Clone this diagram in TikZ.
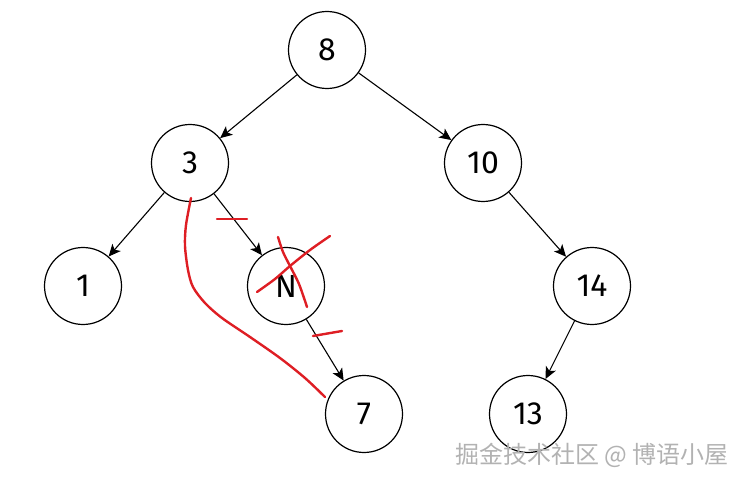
\documentclass[tikz,border=0pt]{standalone}
\usepackage{fontspec}
\setmainfont{Fira Sans}
\newfontfamily\cjkfont{Noto Sans CJK SC}
\usetikzlibrary{arrows.meta}
\begin{document}
\begin{tikzpicture}[x=1pt,y=-1pt,
  tnode/.style={circle,draw=black,line width=1.2pt,minimum size=77pt,inner sep=0pt,
    font=\fontsize{32}{36}\selectfont},
  edge/.style={draw=black,line width=1.1pt,-{Stealth[length=12pt,width=11pt,inset=3pt]}},
  redmark/.style={draw={rgb,255:red,222;green,30;blue,36},line width=2.4pt,line cap=round,line join=round}]
\useasboundingbox (0,0) rectangle (756,484);
\node[tnode] (n8) at (327,50) {8};
\node[tnode] (n3) at (190,163) {3};
\node[tnode] (n10) at (483,163) {10};
\node[tnode] (n1) at (83,286) {1};
\node[tnode] (nN) at (286,286) {N};
\node[tnode] (n14) at (592,286) {14};
\node[tnode] (n7) at (364,414) {7};
\node[tnode] (n13) at (528,414) {13};
\draw[edge] (n8) -- (n3);
\draw[edge] (n8) -- (n10);
\draw[edge] (n3) -- (n1);
\draw[edge] (n3) -- (nN);
\draw[edge] (n10) -- (n14);
\draw[edge] (nN) -- (n7);
\draw[edge] (n14) -- (n13);
% red marks
\draw[redmark] (217,219) -- (247,219);
\draw[redmark] (313,336) -- (342,331);
\draw[redmark] plot[smooth] coordinates {(257,292) (275,279) (290,266) (310,250) (330,236)};
\draw[redmark] plot[smooth] coordinates {(278,237) (283,252) (290,266) (299,284) (307,307)};
\draw[redmark] plot[smooth] coordinates {(191,198) (186,225) (185,246) (188,270) (193,287) (205,303) (222,318) (250,337) (280,358) (305,378) (325,397)};
% watermark
\node[anchor=west,text=gray!60,font=\cjkfont\fontsize{24}{28}\selectfont,inner sep=0pt] (wm) at (455,455) {掘金技术社区 @ 博语小屋};
\end{tikzpicture}
\end{document}
